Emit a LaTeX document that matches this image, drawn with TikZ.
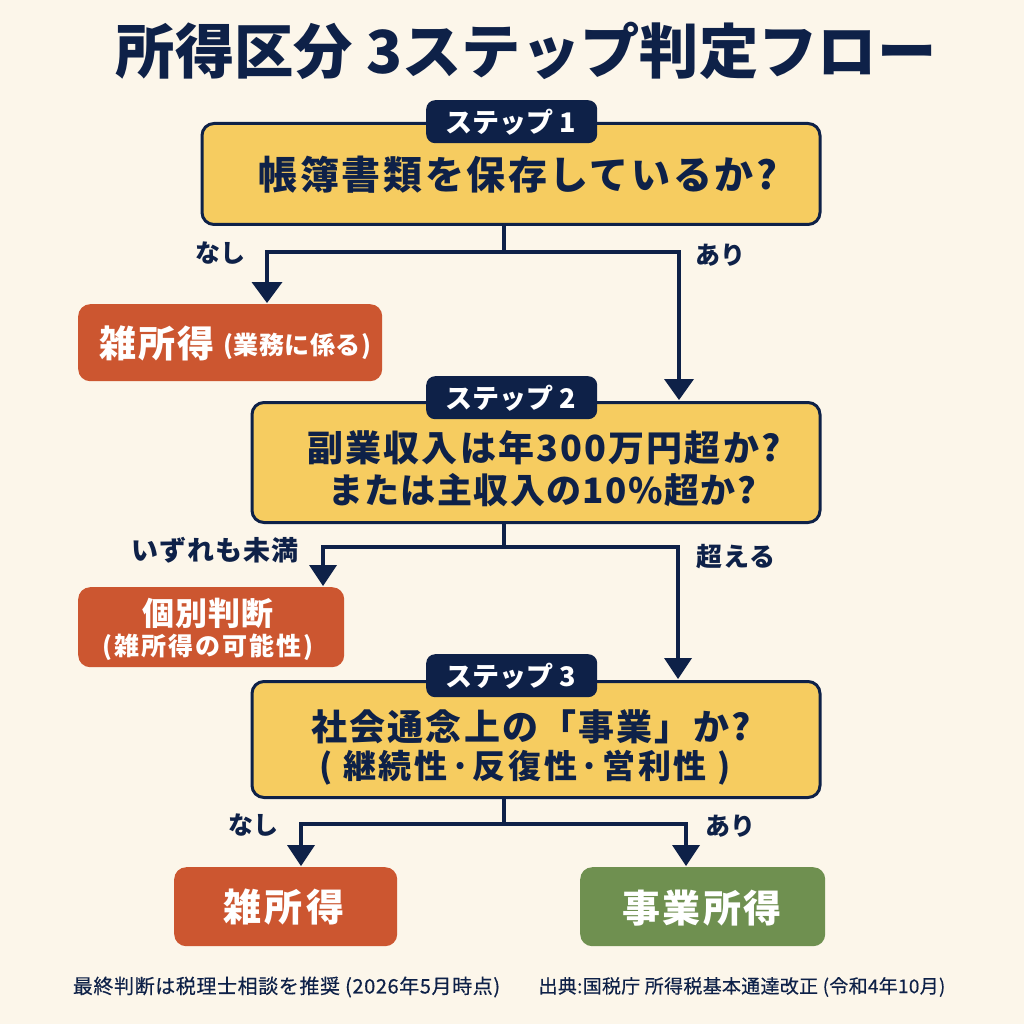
\documentclass[tikz,border=0pt]{standalone}
\usepackage{fontspec}
\setmainfont{Noto Sans CJK JP}
\newcommand{\fsz}[2][0]{\fontsize{#2}{#2}\selectfont\addfontfeature{LetterSpace=#1}}
\definecolor{bgc}{HTML}{FCF6EA}
\definecolor{navy}{HTML}{0E2148}
\definecolor{yel}{HTML}{F6CC60}
\definecolor{ora}{HTML}{CC5630}
\definecolor{gre}{HTML}{6F9050}
\usetikzlibrary{calc}
\tikzset{
 x=1pt,y=-1pt,
 box/.style={anchor=north west,inner sep=0pt,rounded corners=12pt},
 q/.style={box,draw=navy,line width=3pt,fill=yel},
 badge/.style={box,fill=navy,rounded corners=9pt,minimum width=171pt,minimum height=43pt},
 ob/.style={box,fill=ora},
 gb/.style={box,fill=gre},
 t/.style={inner sep=0pt,text=navy,font=\bfseries},
 w/.style={inner sep=0pt,text=white,font=\bfseries},
 foot/.style={inner sep=0pt,text=navy},
 line/.style={draw=navy,line width=4.5pt},
}
\newcommand{\ah}[2][14]{\fill[navy] ($(#2)+(-#1,-22)$) -- ($(#2)+(#1,-22)$) -- ($(#2)+(0,-1)$) -- cycle;}
\begin{document}
\begin{tikzpicture}
\useasboundingbox (0,0) rectangle (1024,1024);
\fill[bgc] (0,0) rectangle (1024,1024);
\node[t] (title) at (526,51) {\fsz[0]{59.3}所得区分 3ステップ判定フロー};
% boxes
\node[q,minimum width=618pt,minimum height=101pt] (s1) at (200.5,122) {};
\node[q,minimum width=568pt,minimum height=120pt] (s2) at (250.5,401) {};
\node[q,minimum width=568pt,minimum height=116pt] (s3) at (250.5,680) {};
\node[badge] (b1) at (426,100) {};
\node[badge] (b2) at (426,376) {};
\node[badge] (b3) at (426,654) {};
\node[ob,minimum width=304pt,minimum height=77pt] (m1) at (78,304) {};
\node[ob,minimum width=266pt,minimum height=80pt] (m2) at (78,587) {};
\node[ob,minimum width=223pt,minimum height=79pt] (m3) at (174,867) {};
\node[gb,minimum width=245pt,minimum height=79pt] (g3) at (580,867) {};
% texts
\node[w] (tb1) at (511,122) {\fsz{27}ステップ 1};
\node[w] (tb2) at (511,398) {\fsz{27}ステップ 2};
\node[w] (tb3) at (511,676) {\fsz{27}ステップ 3};
\node[t] (q1) at (518,175) {\fsz[6.5]{39}帳簿書類を保存しているか?};
\node[t] (q2a) at (544,448) {\fsz[6]{36}副業収入は年300万円超か?};
\node[t] (q2b) at (542,490) {\fsz[4]{35}または主収入の10\%超か?};
\node[t] (q3a) at (531,727) {\fsz[6]{36}社会通念上の「事業」か?};
\node[t] (q3b) at (525,768) {\fsz[8]{33}( 継続性·反復性·営利性 )};
\node[w] (o1a) at (157,343) {\fsz[6]{37}雑所得};
\node[w] (o1b) at (297,346) {\fsz[2]{25}(業務に係る)};
\node[w] (o2a) at (208,613) {\fsz[4]{32}個別判断};
\node[w] (o2b) at (208,647) {\fsz[8]{25}(雑所得の可能性)};
\node[w] (o3) at (284,907) {\fsz[8]{38}雑所得};
\node[w] (g) at (702,908) {\fsz[7]{38}事業所得};
\node[t] (l1) at (220,253) {\fsz{25}なし};
\node[t] (r1) at (720,255) {\fsz{25}あり};
\node[t] (l2) at (215,550) {\fsz[4]{27}いずれも未満};
\node[t] (r2) at (736,557) {\fsz[3.5]{26}超える};
\node[t] (l3) at (253,825) {\fsz{25}なし};
\node[t] (r3) at (730,826) {\fsz{25}あり};
\node[foot] (f1) at (286.5,987) {\fsz[3]{20}\addfontfeature{FakeBold=0.3}最終判断は税理士相談を推奨 (2026年5月時点)};
\node[foot] (f2) at (742,987) {\fsz[1.5]{19}\addfontfeature{FakeBold=0.3}出典:国税庁 所得税基本通達改正 (令和4年10月)};
% connectors
\coordinate (j1) at (504,252); \coordinate (a1) at (267,252); \coordinate (c1) at (679,252);
\coordinate (j2) at (504,547); \coordinate (a2) at (323,547); \coordinate (c2) at (678,547);
\coordinate (j3) at (504,824); \coordinate (a3) at (301,824); \coordinate (c3) at (686,824);
\coordinate (e1) at (a1 |- m1.north); \coordinate (e2) at (c1 |- s2.north);
\coordinate (e3) at (a2 |- m2.north); \coordinate (e4) at (c2 |- s3.north);
\coordinate (e5) at (a3 |- m3.north); \coordinate (e6) at (c3 |- g3.north);
\draw[line] (j1 |- s1.south) -- (j1);
\draw[line,line cap=rect] (a1) -- (c1);
\draw[line] (j2 |- s2.south) -- (j2);
\draw[line,line cap=rect] (a2) -- (c2);
\draw[line] (j3 |- s3.south) -- (j3);
\draw[line,line cap=rect] (a3) -- (c3);
\draw[line] (a1) -- ($(e1)+(0,-18)$);
\draw[line] (c1) -- ($(e2)+(0,-18)$);
\draw[line] (a2) -- ($(e3)+(0,-18)$);
\draw[line] (c2) -- ($(e4)+(0,-18)$);
\draw[line] (a3) -- ($(e5)+(0,-18)$);
\draw[line] (c3) -- ($(e6)+(0,-18)$);
\ah[15.5]{e1}\ah[15]{e2}\ah{e3}\ah{e4}\ah{e5}\ah{e6}
\end{tikzpicture}
\end{document}
